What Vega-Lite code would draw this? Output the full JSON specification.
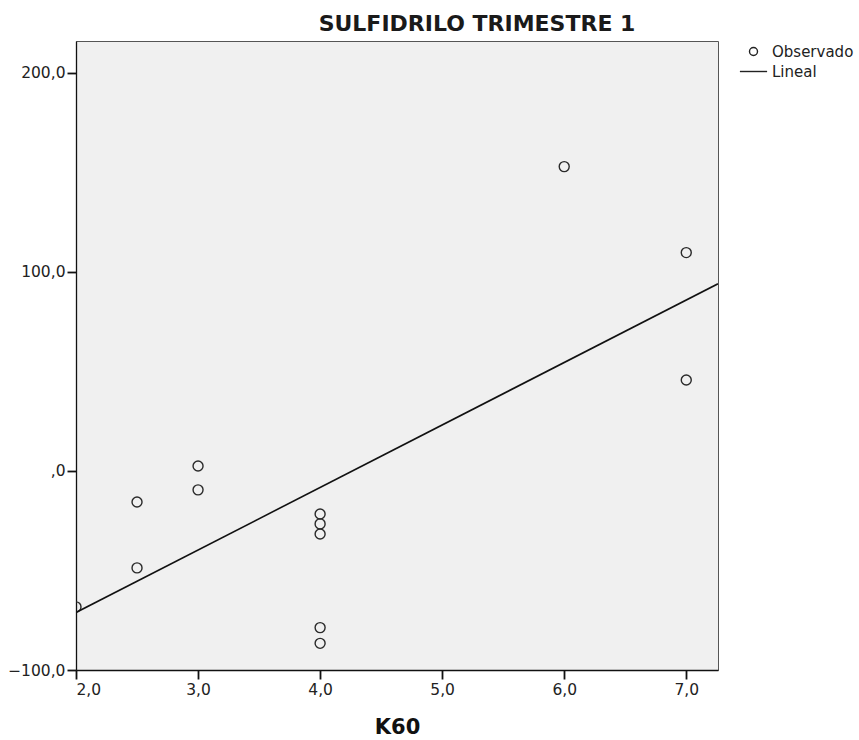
{
  "$schema": "https://vega.github.io/schema/vega-lite/v6.json",
  "width": 642,
  "height": 629,
  "autosize": "none",
  "padding": {"left": 76, "top": 41, "right": 141, "bottom": 70},
  "background": "#ffffff",
  "title": {
    "text": "SULFIDRILO TRIMESTRE 1",
    "font": "DejaVu Sans",
    "fontSize": 22,
    "fontWeight": "bold",
    "color": "#1a1a1a",
    "anchor": "middle",
    "dx": 80,
    "offset": 5
  },
  "config": {
    "view": {"fill": "#f0f0f0", "stroke": "#555555", "strokeWidth": 1},
    "axis": {
      "labelFont": "DejaVu Sans",
      "labelFontSize": 15.5,
      "labelColor": "#222222",
      "domainColor": "#111111",
      "domainWidth": 1.3,
      "tickColor": "#111111",
      "tickWidth": 1.8,
      "tickSize": 9,
      "grid": false,
      "titleFont": "DejaVu Sans",
      "titleFontWeight": "bold",
      "titleColor": "#111111"
    }
  },
  "data": {
    "values": [
      {"k60": 2.0, "sulfidrilo": -68.3},
      {"k60": 2.5, "sulfidrilo": -15.6},
      {"k60": 2.5, "sulfidrilo": -48.7},
      {"k60": 3.0, "sulfidrilo": 2.5},
      {"k60": 3.0, "sulfidrilo": -9.5},
      {"k60": 4.0, "sulfidrilo": -21.6},
      {"k60": 4.0, "sulfidrilo": -26.6},
      {"k60": 4.0, "sulfidrilo": -31.7},
      {"k60": 4.0, "sulfidrilo": -78.7},
      {"k60": 4.0, "sulfidrilo": -86.6},
      {"k60": 6.0, "sulfidrilo": 152.9},
      {"k60": 7.0, "sulfidrilo": 109.7},
      {"k60": 7.0, "sulfidrilo": 45.7}
    ]
  },
  "encoding": {
    "x": {
      "field": "k60",
      "type": "quantitative",
      "scale": {"domain": [2, 7.26], "nice": false, "zero": false},
      "axis": {
        "values": [2, 3, 4, 5, 6, 7],
        "labelExpr": "replace(format(datum.value, '.1f'), '.', ',')",
        "labelPadding": 3,
        "title": "K60",
        "titleFontSize": 21,
        "titlePadding": 19
      }
    },
    "y": {
      "field": "sulfidrilo",
      "type": "quantitative",
      "scale": {"domain": [-100, 216], "nice": false, "zero": false},
      "axis": {
        "values": [-100, 0, 100, 200],
        "labelExpr": "datum.value == 0 ? ',0' : replace(format(datum.value, '.1f'), '.', ',')",
        "labelPadding": 2,
        "title": null
      }
    }
  },
  "layer": [
    {
      "mark": {"type": "point", "filled": false, "stroke": "#2a2a2a", "strokeWidth": 1.4, "size": 100, "clip": true, "opacity": 1},
      "encoding": {
        "shape": {
          "datum": "Observado",
          "scale": {"domain": ["Observado", "Lineal"], "range": ["circle", "M-3.4,0H3.4"]},
          "legend": {
            "title": null,
            "orient": "none",
            "legendX": 670,
            "legendY": 3,
            "labelFont": "DejaVu Sans",
            "labelFontSize": 15,
            "labelColor": "#222222",
            "labelOffset": 11,
            "rowPadding": 4,
            "symbolSize": 64,
            "symbolStrokeColor": "#222222",
            "symbolFillColor": "transparent",
            "symbolStrokeWidth": 1.4
          }
        }
      }
    },
    {
      "transform": [
        {"regression": "sulfidrilo", "on": "k60", "extent": [2, 7.26]}
      ],
      "mark": {"type": "line", "color": "#111111", "strokeWidth": 1.6, "clip": true}
    }
  ]
}
